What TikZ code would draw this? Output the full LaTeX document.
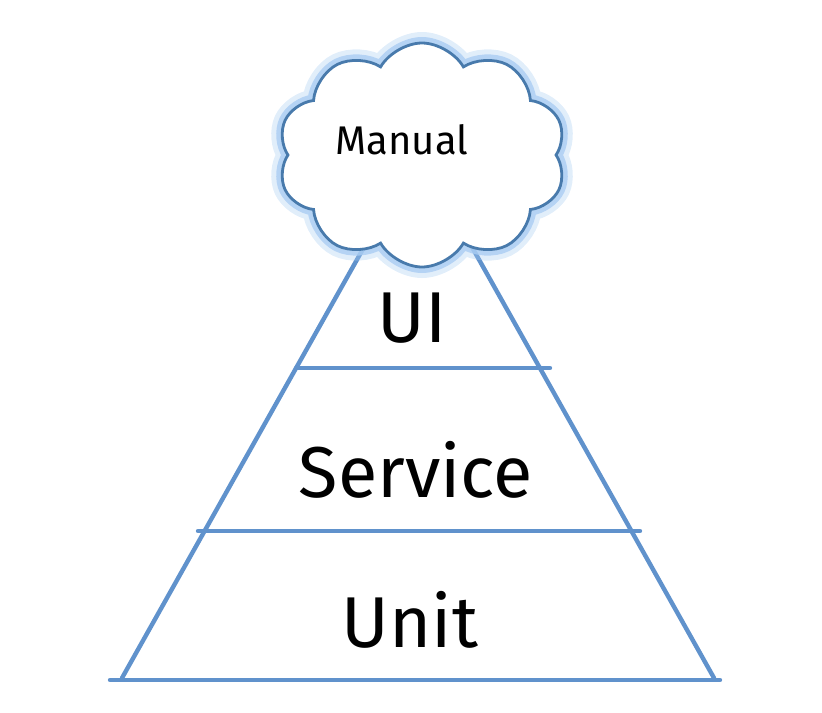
\documentclass[tikz,border=0pt]{standalone}
\usepackage{fontspec}
\setmainfont{Fira Sans}
\usepackage{tikz}
\usetikzlibrary{positioning, shapes.symbols}
\definecolor{pyrblue}{RGB}{96,146,204}
\definecolor{cloudline}{RGB}{72,122,172}
\definecolor{glowblue}{RGB}{170,205,242}
\tikzset{
  edge/.style={draw=pyrblue, line width=2.2pt, line cap=round},
  layer/.style={font=\fontsize{36}{40}\selectfont, text=black},
  cloudbox/.style={cloud, cloud puffs=10, cloud puff arc=120, aspect=1.3,
    minimum width=144pt, minimum height=112pt, inner sep=0pt},
}

\begin{document}
\begin{tikzpicture}[x=0.5pt, y=-0.5pt]
  \useasboundingbox (0,0) rectangle (822,712);

  % Pyramid corners
  \coordinate (apex) at (418,151);
  \coordinate (bl) at (122,678);
  \coordinate (br) at (714,678);

  % Sides
  \draw[edge] (bl) -- (apex) -- (br);

  % Layer lines
  \coordinate (uiL) at (296,368);
  \coordinate (uiR) at (550,368);
  \coordinate (svL) at (198,531);
  \coordinate (svR) at (640,531);
  \coordinate (baseL) at (110,680);
  \coordinate (baseR) at (720,680);
  \draw[edge] (uiL) -- (uiR);
  \draw[edge] (svL) -- (svR);
  \draw[edge] (baseL) -- (baseR);

  % Labels
  \node[layer] (ui) at (412,318) {UI};
  \node[layer] (service) at (416,470) {Service};
  \node[layer] (unit) at (410,620) {Unit};

  % Cloud on top, with a soft glow
  \node[cloudbox, draw=glowblue, line width=11pt, opacity=0.35] (glowout) at (422,155) {};
  \node[cloudbox, draw=glowblue, line width=6pt, opacity=0.8] (glow) at (422,155) {};
  \node[cloudbox, draw=cloudline, fill=white, line width=1.4pt] (manual) at (422,155) {};
  \node[font=\fontsize{20}{24}\selectfont] (manualtext) at (402,140) {Manual};

\end{tikzpicture}
\end{document}
